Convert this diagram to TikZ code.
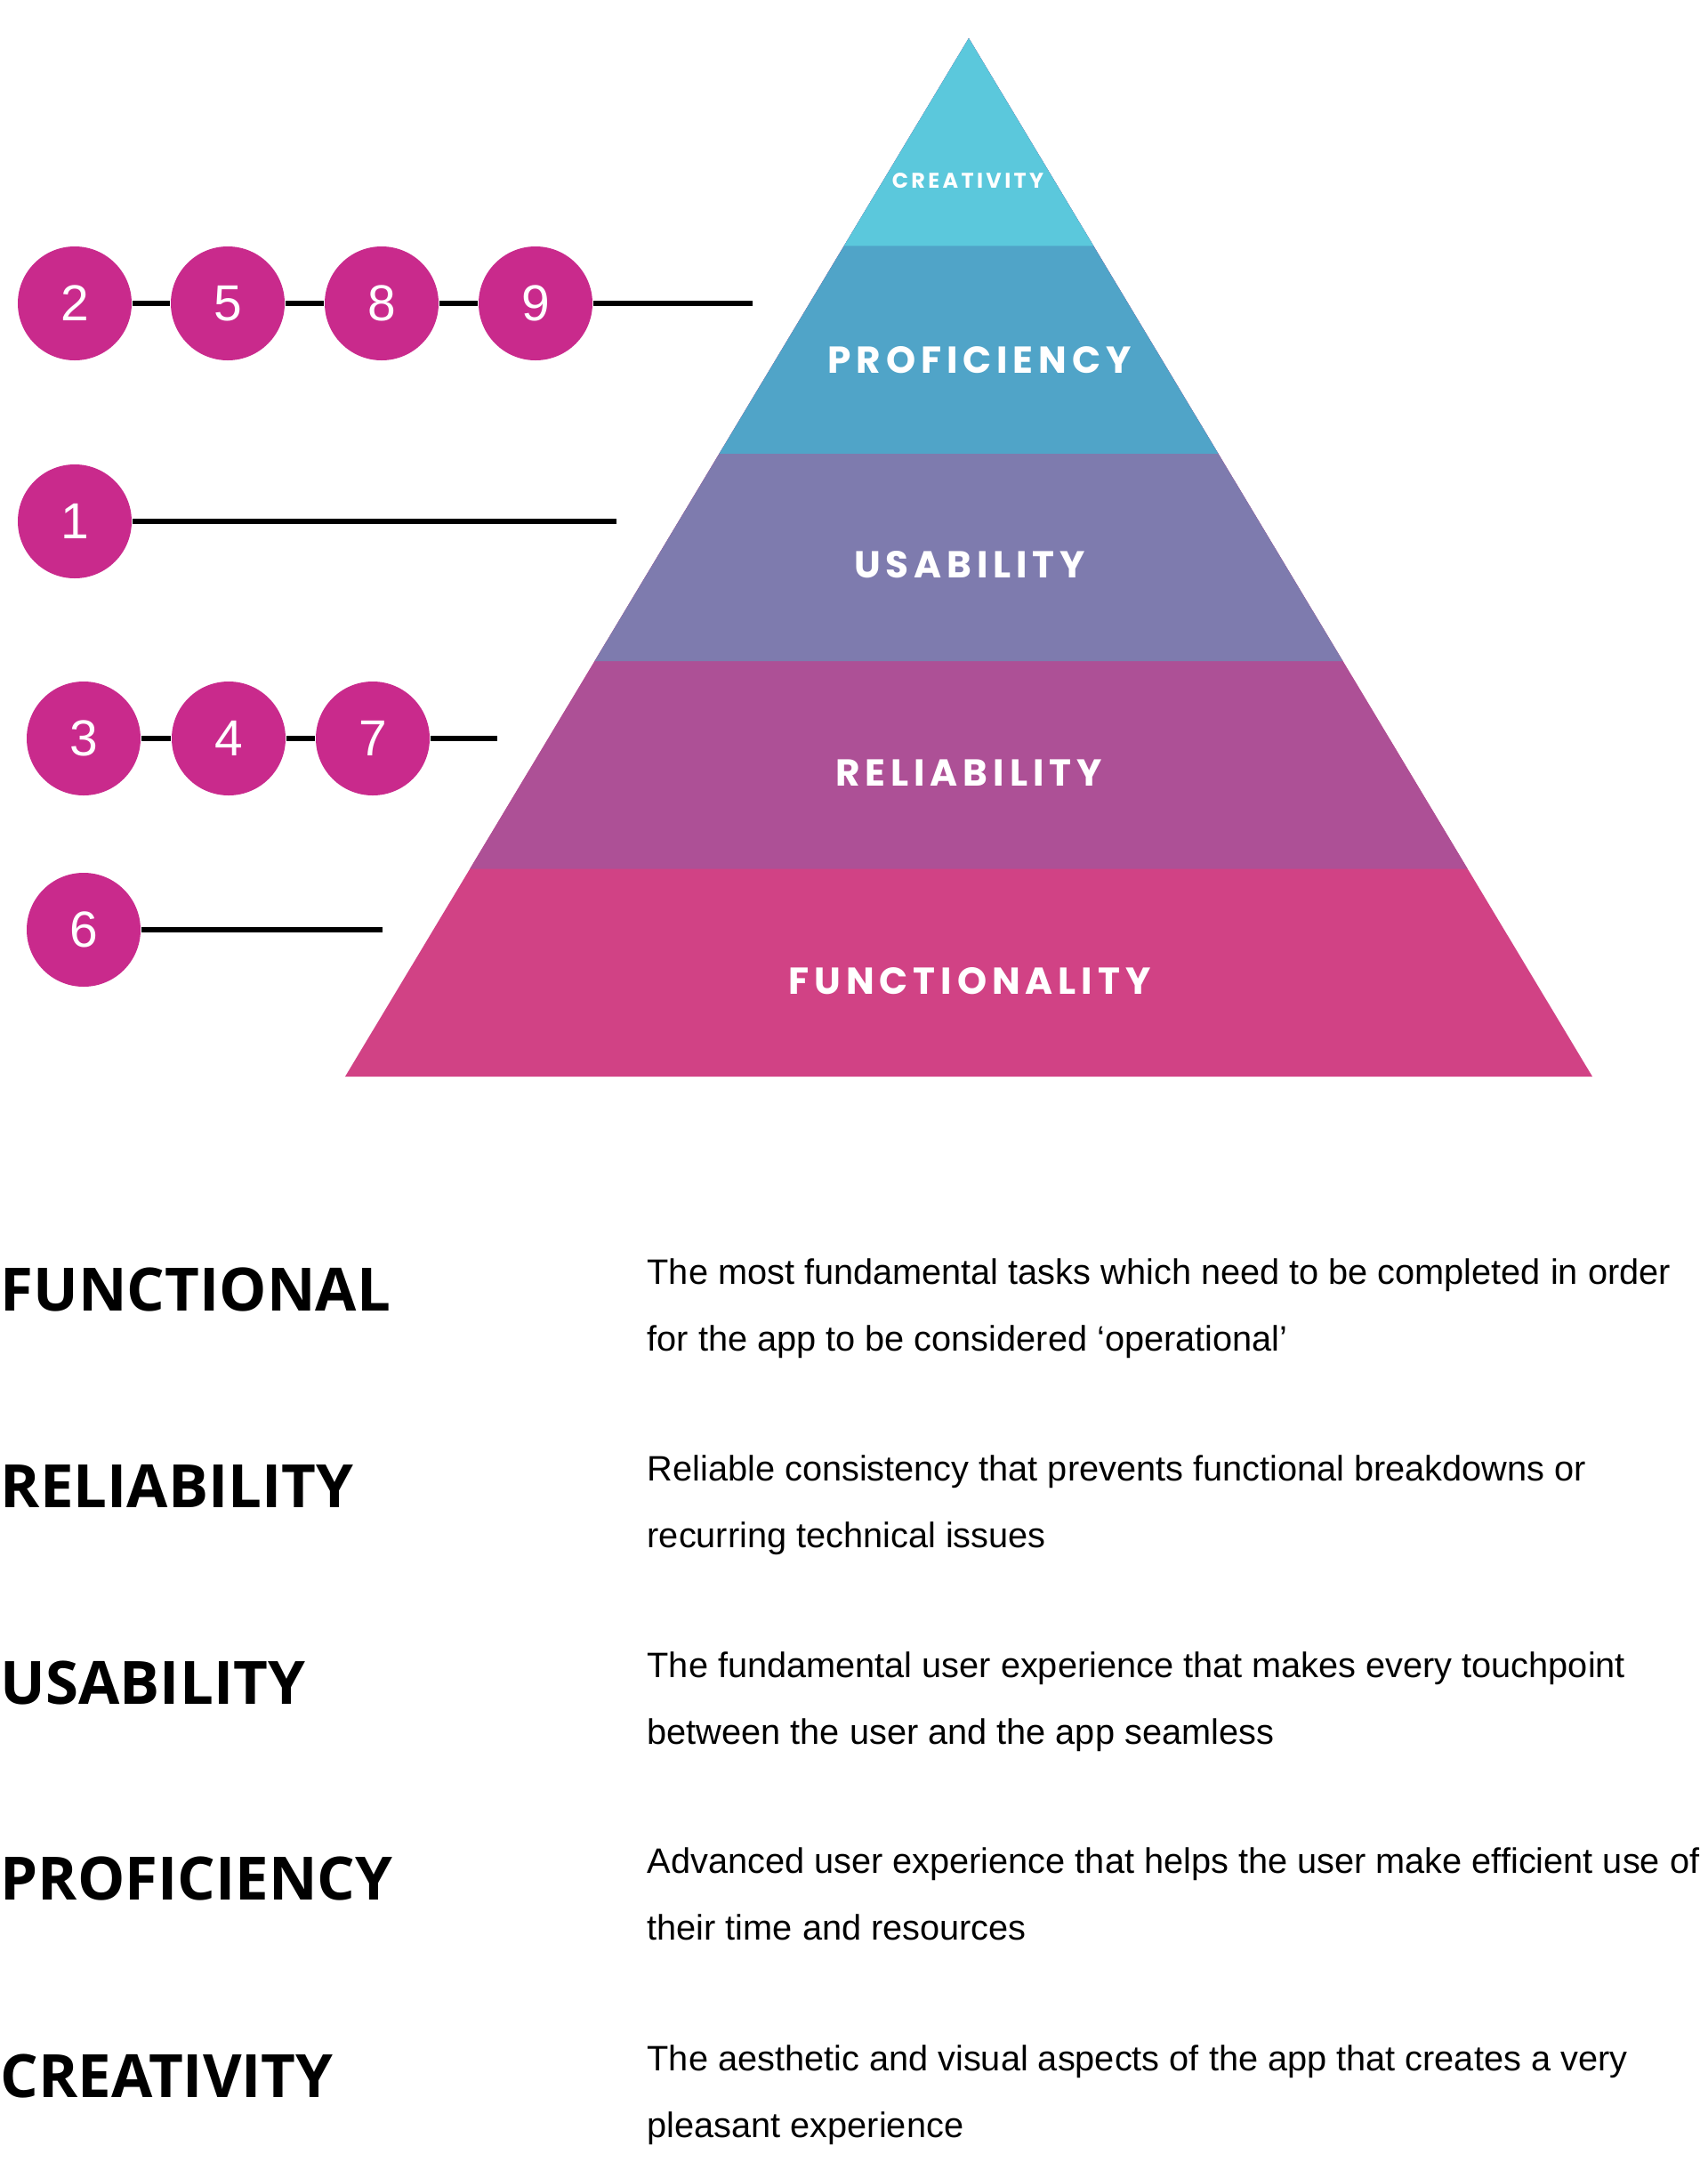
\documentclass[tikz,border=0pt]{standalone}
\usepackage{fontspec}
\usepackage{xcolor}
\usepackage{tikz}
\usetikzlibrary{calc,positioning}
\setmainfont{Liberation Sans}
\newfontfamily\headfont{Open Sans}
\newfontfamily\tierfont[LetterSpace=14]{Poppins}
\definecolor{pyrcrea}{HTML}{5BC8DC}
\definecolor{pyrprof}{HTML}{50A4C8}
\definecolor{pyrusab}{HTML}{7E7BAE}
\definecolor{pyrreli}{HTML}{AD5096}
\definecolor{pyrfunc}{HTML}{D14285}
\definecolor{dotpink}{HTML}{C92A8C}

\begin{document}
\begin{tikzpicture}[
    dot/.style={circle, fill=dotpink, minimum size=1.28cm, inner sep=0pt,
                text=white, font=\fontsize{16.2}{16.2}\selectfont},
    link/.style={line width=1.7pt, black},
    tier/.style={text=white, inner sep=0pt,
                 font=\tierfont\bfseries\fontsize{12}{12}\selectfont},
    head/.style={anchor=base west, inner sep=0pt,
                 font=\headfont\bfseries\fontsize{19.1}{19.1}\selectfont},
    desc/.style={anchor=base west, inner sep=0pt,
                 font=\fontsize{11.3}{11.3}\selectfont}]
  \useasboundingbox (0,0) rectangle (19.2,-24.3);
  \coordinate (apex) at (10.89,-0.43);
  \coordinate (bl) at (3.88,-12.10);
  \coordinate (br) at (17.90,-12.10);
  \foreach \b/\c in {1/pyrfunc, 0.8/pyrreli, 0.6/pyrusab, 0.4/pyrprof, 0.2/pyrcrea}
    \fill[\c] (apex) -- ($(apex)!\b!(bl)$) -- ($(apex)!\b!(br)$) -- cycle;

  \node[tier, font=\tierfont\bfseries\fontsize{6.8}{6.8}\selectfont] (tcrea) at (10.88,-2.03) {CREATIVITY};
  \node[tier] (tprof) at (11.01,-4.05) {PROFICIENCY};
  \node[tier] (tusab) at (10.90,-6.35) {USABILITY};
  \node[tier] (treli) at (10.89,-8.69) {RELIABILITY};
  \node[tier] (tfunc) at (10.90,-11.03) {FUNCTIONALITY};

  \node[dot] (c2) at (0.84,-3.41) {2};
  \node[dot] (c5) at (2.56,-3.41) {5};
  \node[dot] (c8) at (4.29,-3.41) {8};
  \node[dot] (c9) at (6.02,-3.41) {9};
  \coordinate (e9) at (8.46,-3.41);
  \draw[link] (c2) -- (c5) (c5) -- (c8) (c8) -- (c9) (c9) -- (e9);

  \node[dot] (c1) at (0.84,-5.86) {1};
  \coordinate (e1) at (6.93,-5.86);
  \draw[link] (c1) -- (e1);

  \node[dot] (c3) at (0.94,-8.30) {3};
  \node[dot] (c4) at (2.57,-8.30) {4};
  \node[dot] (c7) at (4.19,-8.30) {7};
  \coordinate (e7) at (5.59,-8.30);
  \draw[link] (c3) -- (c4) (c4) -- (c7) (c7) -- (e7);

  \node[dot] (c6) at (0.94,-10.45) {6};
  \coordinate (e6) at (4.30,-10.45);
  \draw[link] (c6) -- (e6);

  \foreach \y/\h/\u/\v [count=\i] in {
      14.73/FUNCTIONAL/The most fundamental tasks which need to be completed in order/for the app to be considered ‘operational’,
      16.94/RELIABILITY/Reliable consistency that prevents functional breakdowns or/recurring technical issues,
      19.15/USABILITY/The fundamental user experience that makes every touchpoint/between the user and the app seamless,
      21.35/PROFICIENCY/Advanced user experience that helps the user make efficient use of/their time and resources,
      23.57/CREATIVITY/The aesthetic and visual aspects of the app that creates a very/pleasant experience} {
    \node[head] (hd\i) at (0,-\y) {\h};
    \node[desc] (da\i) at (7.27,{0.30-\y}) {\u};
    \node[desc] (db\i) at (7.27,{-0.45-\y}) {\v};
  }
\end{tikzpicture}
\end{document}
